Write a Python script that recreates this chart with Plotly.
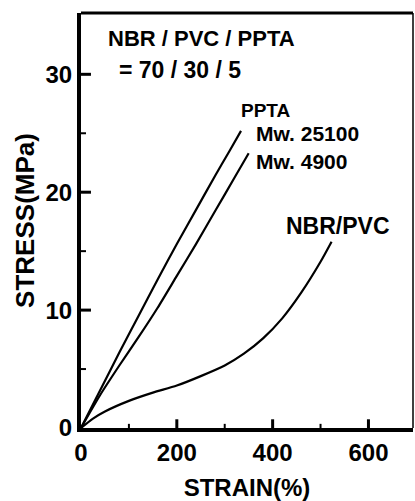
import plotly.graph_objects as go

# Data (strain %, stress MPa)
strain_25100 = [0, 40, 80, 120, 160, 200, 240, 280, 310, 334]
stress_25100 = [0, 3.2, 6.4, 9.5, 12.6, 15.6, 18.5, 21.4, 23.5, 25.2]

strain_4900 = [0, 40, 80, 120, 160, 200, 240, 280, 320, 350]
stress_4900 = [0, 2.8, 5.3, 7.7, 10.2, 12.9, 15.6, 18.4, 21.2, 23.3]

strain_nbr = [0, 25, 50, 100, 150, 200, 250, 300, 340, 380, 420, 460, 500, 523]
stress_nbr = [0, 0.8, 1.4, 2.3, 3.0, 3.6, 4.4, 5.3, 6.3, 7.6, 9.3, 11.5, 14.1, 15.8]

x_ticks = [0, 200, 400, 600]
x_minor_ticks = [100, 300, 500]
y_ticks = [0, 10, 20, 30]
y_minor_ticks = [5, 15, 25]

FONT = "Liberation Sans"
BLACK = "black"
X_MAX, Y_MAX = 693, 35.2

fig = go.Figure()
for xs, ys, name in [(strain_25100, stress_25100, "PPTA Mw. 25100"),
                     (strain_4900, stress_4900, "PPTA Mw. 4900"),
                     (strain_nbr, stress_nbr, "NBR/PVC")]:
    fig.add_trace(go.Scatter(x=xs, y=ys, mode="lines", name=name,
                             line=dict(color=BLACK, width=2.2, shape="spline", smoothing=0.7),
                             showlegend=False, hoverinfo="skip"))


# inward tick marks built from the tick arrays (lengths as fractions of the axis ranges)
def tick_segments(values, length, vertical):
    xs, ys = [], []
    for v in values:
        if vertical:
            xs += [v, v, None]
            ys += [0, length, None]
        else:
            xs += [0, length, None]
            ys += [v, v, None]
    return xs, ys


for vals, frac, vertical, width in [
    (x_ticks[1:], 0.021, True, 3),
    (x_minor_ticks, 0.010, True, 2),
    (y_ticks[1:], 0.030, False, 3),
    (y_minor_ticks, 0.015, False, 2),
]:
    length = frac * (Y_MAX if vertical else X_MAX)
    tx, ty = tick_segments(vals, length, vertical)
    fig.add_trace(go.Scatter(x=tx, y=ty, mode="lines", showlegend=False,
                             hoverinfo="skip", cliponaxis=False,
                             line=dict(color=BLACK, width=width)))

annots = [
    dict(text="NBR / PVC / PPTA", x=52, y=33.0, size=22),
    dict(text="= 70 / 30 / 5", x=76, y=30.4, size=23),
    dict(text="PPTA", x=330, y=26.9, size=19),
    dict(text="Mw. 25100", x=361, y=25.0, size=21),
    dict(text="Mw. 4900", x=361, y=22.6, size=21),
    dict(text="NBR/PVC", x=423, y=17.1, size=23),
]
for a in annots:
    fig.add_annotation(text="<b>" + a["text"] + "</b>", x=a["x"], y=a["y"], xref="x", yref="y",
                       xanchor="left", yanchor="middle", showarrow=False,
                       font=dict(family=FONT, size=a["size"], color=BLACK))

# top and right frame lines
fig.add_shape(type="line", xref="paper", yref="paper", x0=0, x1=1, y0=1, y1=1,
              line=dict(color=BLACK, width=3))
fig.add_shape(type="line", xref="paper", yref="paper", x0=1, x1=1, y0=0, y1=1,
              line=dict(color=BLACK, width=1.5))

fig.update_xaxes(range=[0, X_MAX], tickvals=x_ticks,
                 ticktext=["<b>%d</b>" % v for v in x_ticks],
                 ticks="", showgrid=False, zeroline=False,
                 showline=True, linecolor=BLACK, linewidth=4,
                 layer="above traces",
                 tickfont=dict(family=FONT, size=24, color=BLACK),
                 title=dict(text="<b>STRAIN(%)</b>", standoff=16,
                            font=dict(family=FONT, size=24, color=BLACK)))
fig.update_yaxes(range=[0, Y_MAX], tickvals=y_ticks,
                 ticktext=["<b>%d</b>" % v for v in y_ticks],
                 ticks="", showgrid=False, zeroline=False,
                 showline=True, linecolor=BLACK, linewidth=4,
                 layer="above traces",
                 tickfont=dict(family=FONT, size=24, color=BLACK),
                 title=dict(text="<b>STRESS(MPa)</b>", standoff=4,
                            font=dict(family=FONT, size=26, color=BLACK)))

fig.update_layout(width=415, height=501, margin=dict(l=81, r=2, t=13, b=64),
                  plot_bgcolor="white", paper_bgcolor="white",
                  font=dict(family=FONT, color=BLACK), hovermode=False)

fig.write_html("out.html")
